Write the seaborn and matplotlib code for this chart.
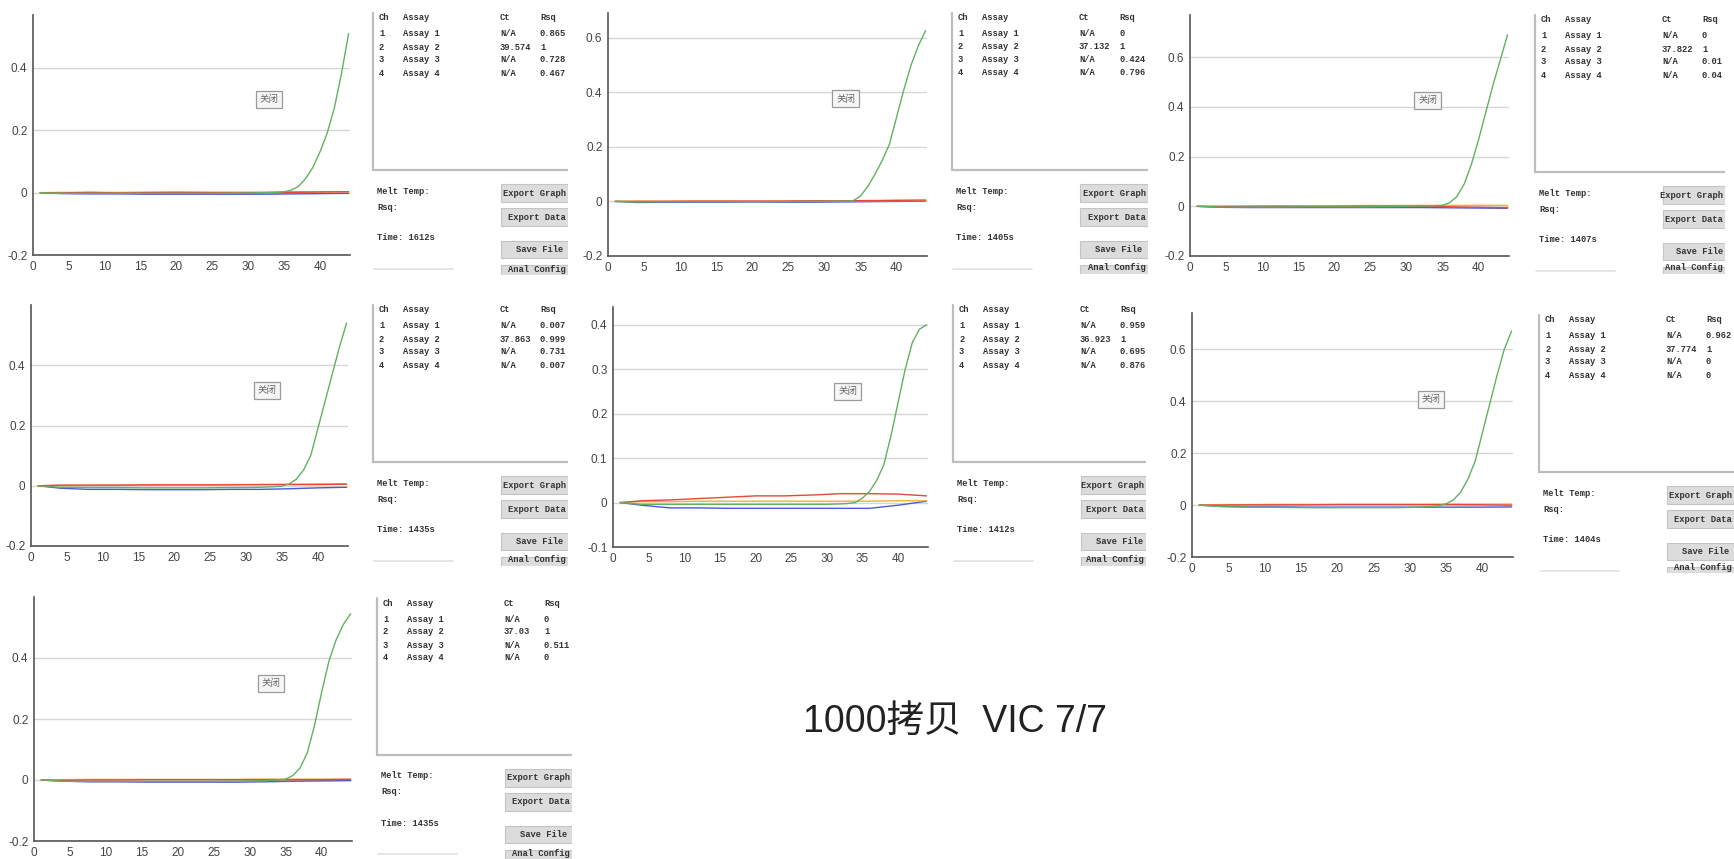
import matplotlib
matplotlib.use("Agg")
import matplotlib.pyplot as plt
import seaborn as sns
import pandas as pd
from matplotlib.ticker import FixedLocator, FuncFormatter
from matplotlib.patches import Rectangle

# ---------------- data ----------------
cycles_green = [1, 4, 8, 12, 16, 20, 24, 28, 30, 32, 33, 34, 35, 36, 37, 38, 39, 40, 41, 42, 43, 44]
cycles_base = [1, 4, 8, 12, 16, 20, 24, 28, 32, 36, 40, 44]

green_1 = [0, -0.002, -0.002, -0.002, -0.002, -0.002, -0.002, -0.002, -0.001, 0, 0, 0.001, 0.003, 0.008, 0.02, 0.045, 0.08, 0.13, 0.19, 0.27, 0.38, 0.51]
green_2 = [0, -0.002, -0.001, -0.001, -0.001, -0.001, -0.001, 0, 0, 0.001, 0.001, 0.003, 0.02, 0.055, 0.1, 0.15, 0.21, 0.31, 0.41, 0.5, 0.57, 0.625]
green_3 = [0, -0.003, -0.003, -0.003, -0.002, -0.002, -0.002, -0.001, 0, 0.001, 0.001, 0.002, 0.004, 0.015, 0.04, 0.09, 0.17, 0.27, 0.38, 0.49, 0.59, 0.69]
green_4 = [0, -0.005, -0.006, -0.006, -0.007, -0.007, -0.007, -0.006, -0.006, -0.005, -0.004, -0.003, -0.001, 0.006, 0.022, 0.052, 0.1, 0.19, 0.28, 0.37, 0.46, 0.54]
green_5 = [0, -0.004, -0.004, -0.004, -0.004, -0.004, -0.004, -0.004, -0.004, -0.003, -0.002, 0, 0.01, 0.025, 0.05, 0.085, 0.15, 0.225, 0.3, 0.36, 0.39, 0.4]
green_6 = [0, -0.006, -0.008, -0.009, -0.01, -0.01, -0.01, -0.01, -0.009, -0.007, -0.005, -0.002, 0.005, 0.02, 0.05, 0.1, 0.17, 0.28, 0.39, 0.5, 0.6, 0.67]
green_7 = [0, -0.004, -0.005, -0.005, -0.005, -0.005, -0.005, -0.004, -0.003, -0.002, -0.001, 0, 0.003, 0.015, 0.04, 0.09, 0.18, 0.29, 0.39, 0.46, 0.51, 0.545]

blue_1 = [0, -0.003, -0.004, -0.004, -0.005, -0.005, -0.005, -0.005, -0.005, -0.004, -0.003, -0.002]
blue_2 = [0, -0.004, -0.003, -0.003, -0.003, -0.002, -0.003, -0.003, -0.002, -0.001, 0, 0.001]
blue_3 = [0, -0.004, -0.005, -0.005, -0.005, -0.005, -0.005, -0.005, -0.005, -0.006, -0.007, -0.008]
blue_4 = [0, -0.008, -0.012, -0.012, -0.013, -0.013, -0.013, -0.012, -0.012, -0.01, -0.007, -0.005]
blue_5 = [0, -0.006, -0.012, -0.012, -0.013, -0.013, -0.013, -0.013, -0.013, -0.013, -0.006, 0.003]
blue_6 = [0, -0.005, -0.007, -0.007, -0.008, -0.008, -0.008, -0.008, -0.008, -0.008, -0.008, -0.007]
blue_7 = [0, -0.004, -0.006, -0.006, -0.007, -0.007, -0.007, -0.007, -0.006, -0.004, -0.003, -0.002]

orange_1 = [0, 0.001, 0.001, 0.001, 0.002, 0.002, 0.002, 0.002, 0.002, 0.003, 0.003, 0.003]
orange_2 = [0, 0.001, 0.001, 0.001, 0.001, 0.001, 0.001, 0.002, 0.002, 0.002, 0.003, 0.003]
orange_3 = [0, 0.001, 0.002, 0.002, 0.002, 0.002, 0.003, 0.003, 0.004, 0.004, 0.004, 0.004]
orange_4 = [0, 0.001, 0.001, 0.002, 0.002, 0.003, 0.003, 0.004, 0.004, 0.005, 0.006, 0.007]
orange_5 = [0, 0.002, 0.002, 0.003, 0.003, 0.003, 0.003, 0.003, 0.003, 0.003, 0.004, 0.004]
orange_6 = [0, 0.002, 0.002, 0.003, 0.003, 0.003, 0.003, 0.003, 0.003, 0.004, 0.004, 0.004]
orange_7 = [0, 0.001, 0.002, 0.002, 0.002, 0.002, 0.002, 0.002, 0.003, 0.003, 0.003, 0.003]

red_1 = [0, -0.001, 0.001, -0.001, 0, 0.001, 0, -0.001, 0, 0.001, 0.002, 0.003]
red_2 = [0, 0, 0, 0.001, 0.001, 0.001, 0.001, 0.002, 0.002, 0.003, 0.004, 0.005]
red_3 = [0, -0.001, -0.001, 0, 0, 0, 0.001, 0.001, 0, -0.002, -0.004, -0.006]
red_4 = [0, 0.002, 0.002, 0.002, 0.003, 0.003, 0.003, 0.003, 0.004, 0.004, 0.004, 0.005]
red_5 = [0, 0.004, 0.006, 0.009, 0.012, 0.015, 0.015, 0.017, 0.02, 0.02, 0.019, 0.015]
red_6 = [0, 0, 0.001, 0.001, 0.001, 0.002, 0.002, 0.002, 0.002, 0.002, 0.001, 0]
red_7 = [0, -0.001, 0, 0, 0.001, 0.001, 0.001, 0.001, 0.001, 0.001, 0.001, 0.002]

yticks_1 = [-0.2, 0, 0.2, 0.4]
yticks_2 = [-0.2, 0, 0.2, 0.4, 0.6]
yticks_5 = [-0.1, 0, 0.1, 0.2, 0.3, 0.4]
xticks = [0, 5, 10, 15, 20, 25, 30, 35, 40]

channels = ["1", "2", "3", "4"]
assays = ["Assay 1", "Assay 2", "Assay 3", "Assay 4"]
ct_1 = ["N/A", "39.574", "N/A", "N/A"]; rsq_1 = ["0.865", "1", "0.728", "0.467"]
ct_2 = ["N/A", "37.132", "N/A", "N/A"]; rsq_2 = ["0", "1", "0.424", "0.796"]
ct_3 = ["N/A", "37.822", "N/A", "N/A"]; rsq_3 = ["0", "1", "0.01", "0.04"]
ct_4 = ["N/A", "37.863", "N/A", "N/A"]; rsq_4 = ["0.007", "0.999", "0.731", "0.007"]
ct_5 = ["N/A", "36.923", "N/A", "N/A"]; rsq_5 = ["0.959", "1", "0.695", "0.876"]
ct_6 = ["N/A", "37.774", "N/A", "N/A"]; rsq_6 = ["0.962", "1", "0", "0"]
ct_7 = ["N/A", "37.03", "N/A", "N/A"]; rsq_7 = ["0", "1", "0.511", "0"]
times = ["1612s", "1405s", "1407s", "1435s", "1412s", "1404s", "1435s"]

caption = "1000拷贝  VIC 7/7"

# ---------------- layout ----------------
W, H = 1734, 859
sns.set_style("white")
plt.rcParams["font.family"] = ["Liberation Sans", "DejaVu Sans"]

fig = plt.figure(figsize=(W / 100, H / 100), dpi=100)
fig.patch.set_facecolor("white")

palette = {"1": "#4a5ad8", "2": "#62b062", "3": "#f2b03a", "4": "#e8453c"}
hue_order = ["1", "3", "4", "2"]

def px_axes(l, t, r, b):
    return fig.add_axes([l / W, 1 - b / H, (r - l) / W, (b - t) / H])

panels = [
    ((33, 15, 350, 255), (-0.2, 0.57), yticks_1, (green_1, blue_1, orange_1, red_1), (373, 170, 568, 275), ct_1, rsq_1),
    ((608, 13, 927, 256), (-0.2, 0.69), yticks_2, (green_2, blue_2, orange_2, red_2), (952, 170, 1148, 274), ct_2, rsq_2),
    ((1190, 15, 1509, 256), (-0.2, 0.77), yticks_2, (green_3, blue_3, orange_3, red_3), (1535, 172, 1725, 274), ct_3, rsq_3),
    ((31, 305, 348, 546), (-0.2, 0.60), yticks_1, (green_4, blue_4, orange_4, red_4), (373, 462, 568, 566), ct_4, rsq_4),
    ((613, 307, 928, 547), (-0.1, 0.44), yticks_5, (green_5, blue_5, orange_5, red_5), (953, 462, 1146, 566), ct_5, rsq_5),
    ((1192, 313, 1513, 557), (-0.2, 0.74), yticks_2, (green_6, blue_6, orange_6, red_6), (1539, 472, 1734, 573), ct_6, rsq_6),
    ((34, 597, 352, 841), (-0.2, 0.60), yticks_1, (green_7, blue_7, orange_7, red_7), (377, 755, 572, 859), ct_7, rsq_7),
]

fmt = FuncFormatter(lambda v, p: "%g" % round(v, 3))
TBL_SIZE = 6.3
tbl_font = dict(family=["Liberation Mono", "DejaVu Sans Mono"], fontsize=TBL_SIZE, color="#333333", fontweight="bold")
char_w = 0.6 * TBL_SIZE * 100 / 72
cjk = ["Noto Sans CJK SC", "DejaVu Sans"]

for i, (box, ylim, yt, series, tbl, ct, rsq) in enumerate(panels):
    g, b, o, r = series
    rows = []
    for c, v in zip(cycles_green, g):
        rows.append({"cycle": c, "value": v, "ch": "2"})
    for name, arr in (("1", b), ("3", o), ("4", r)):
        for c, v in zip(cycles_base, arr):
            rows.append({"cycle": c, "value": v, "ch": name})
    df = pd.DataFrame(rows)

    ax = px_axes(*box)
    sns.lineplot(data=df, x="cycle", y="value", hue="ch", hue_order=hue_order,
                 palette=palette, linewidth=1.0, legend=False, errorbar=None, ax=ax)
    ax.set_xlim(0, 44.2)
    ax.set_ylim(*ylim)
    ax.xaxis.set_major_locator(FixedLocator(xticks))
    ax.yaxis.set_major_locator(FixedLocator(yt))
    ax.yaxis.set_major_formatter(fmt)
    ax.xaxis.set_major_formatter(fmt)
    ax.set_xlabel("")
    ax.set_ylabel("")
    ax.yaxis.grid(True, color="#d6d6d6", lw=1.0)
    ax.xaxis.grid(False)
    ax.set_axisbelow(True)
    for s in ("top", "right"):
        ax.spines[s].set_visible(False)
    for s in ("left", "bottom"):
        ax.spines[s].set_color("#555555")
        ax.spines[s].set_linewidth(1.2)
    ax.tick_params(axis="x", direction="inout", length=4, width=1, color="#555555",
                   labelsize=8.5, labelcolor="#444444", pad=2)
    ax.tick_params(axis="y", direction="out", length=3, width=1, color="#555555",
                   labelsize=8.5, labelcolor="#444444", pad=1)
    ax.patch.set_alpha(0)
    ax.text(0.745, 0.647, "关闭", transform=ax.transAxes, ha="center", va="center",
            fontsize=6.8, color="#666666", family=cjk,
            bbox=dict(boxstyle="square,pad=0.4", fc="#f6f6f6", ec="#9a9a9a", lw=0.9))

    # ---- side table panel ----
    tx, lb, right, clipb = tbl
    top = lb - 160
    ta = px_axes(tx - 3, top, right, clipb)
    ta.set_xlim(tx - 3, right)
    ta.set_ylim(clipb, top)
    ta.axis("off")
    ta.plot([tx, tx], [lb - 157, lb], color="#bdbdbd", lw=1.6)
    ta.plot([tx, right], [lb, lb], color="#bdbdbd", lw=1.6)
    cols = [tx + 6, tx + 30, tx + 127, tx + 167]
    for x, h in zip(cols, ["Ch", "Assay", "Ct", "Rsq"]):
        ta.text(x, lb - 152, h, va="center", ha="left", **tbl_font)
    for k in range(4):
        y = lb - 136 + 13 * k
        for x, t in zip(cols, [channels[k], assays[k], ct[k], rsq[k]]):
            ta.text(x, y, t, va="center", ha="left", **tbl_font)
    ta.text(tx + 4, lb + 21, "Melt Temp:", va="center", ha="left", **tbl_font)
    ta.text(tx + 4, lb + 37, "Rsq:", va="center", ha="left", **tbl_font)
    ta.text(tx + 4, lb + 68, "Time: " + times[i], va="center", ha="left", **tbl_font)
    for (y0, y1, label, dx) in ((14, 32, "Export Graph", 9), (38, 56, "Export Data", 10),
                                 (71, 88, "Save File", 15), (95, 113, "Anal Config", 12)):
        ta.add_patch(Rectangle((tx + 128, lb + y0), 80, y1 - y0, fc="#dcdcdc", ec="#c4c4c4", lw=0.8))
        # keep labels inside the visible panel
        xs = min(tx + 128 + dx, right - 2 - len(label) * char_w)
        ys = min(lb + (y0 + y1) / 2, clipb - 6)
        ta.text(xs, ys, label, va="center", ha="left", **tbl_font)
    ta.plot([tx + 1, tx + 80], [lb + 99, lb + 99], color="#e0e0e0", lw=1.2)

fig.text(955 / W, 1 - 722 / H, caption, ha="center", va="center", fontsize=27,
         color="#222222", family=["Liberation Sans", "Noto Sans CJK SC", "DejaVu Sans"])

fig.savefig("out.png", dpi=100, facecolor="white")
